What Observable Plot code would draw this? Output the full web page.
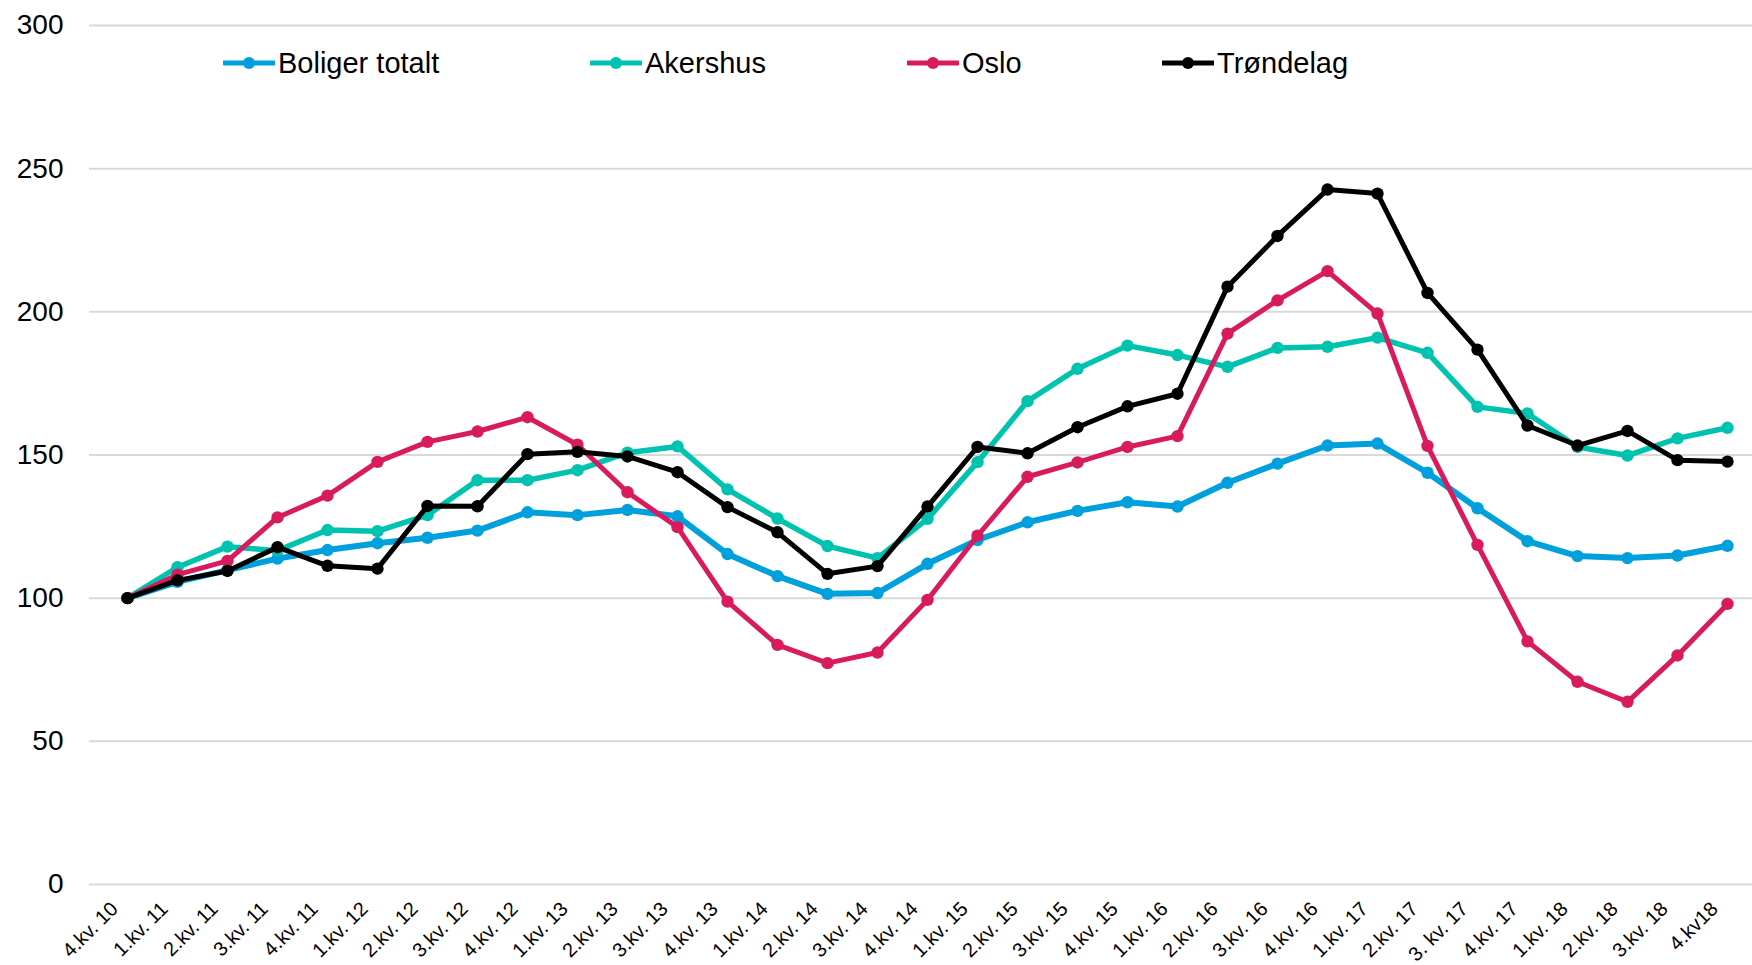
<!DOCTYPE html>
<html><head><meta charset="utf-8">
<script src="https://cdn.jsdelivr.net/npm/d3@7"></script>
<script src="https://cdn.jsdelivr.net/npm/@observablehq/plot@0.6"></script>
<style>
body{margin:0;background:#fff;font-family:Arial,"Liberation Sans",sans-serif;}
#wrap{position:relative;width:1752px;height:965px;overflow:hidden;}
#legend{position:absolute;left:0;top:0;width:1752px;height:0;}
.item{position:absolute;display:flex;align-items:center;font-size:29px;color:#000;line-height:1;white-space:nowrap;}
.item svg{display:block;margin-right:3px;}
</style></head><body><div id="wrap"><div id="chart"></div><div id="legend"></div></div>
<script>
const quarters = ["4.kv. 10","1.kv. 11","2.kv. 11","3.kv. 11","4.kv. 11","1.kv. 12","2.kv. 12","3.kv. 12","4.kv. 12","1.kv. 13","2.kv. 13","3.kv. 13","4.kv. 13","1.kv. 14","2.kv. 14","3.kv. 14","4.kv. 14","1.kv. 15","2.kv. 15","3.kv. 15","4.kv. 15","1.kv. 16","2.kv. 16","3.kv. 16","4.kv. 16","1.kv. 17","2.kv. 17","3. kv. 17","4.kv. 17","1.kv. 18","2.kv. 18","3.kv. 18","4.kv18"];
const seriesNames = ["Boliger totalt","Akershus","Oslo","Trøndelag"];
const boligerTotalt = [100,105.7,109.8,113.8,116.8,119.2,121.1,123.6,130,129,130.8,128.6,115.4,107.7,101.5,101.8,112,120.3,126.5,130.5,133.5,132,140.3,147,153.3,154,143.8,131.4,119.9,114.7,114,114.9,118.3];
const akershus = [100,110.8,118,116.6,123.8,123.4,129,141.2,141.2,144.7,150.8,153,138,127.8,118.2,114,127.7,147.5,168.8,180.1,188.2,184.9,180.8,187.4,187.8,191,185.7,166.8,164.5,152.8,149.8,155.8,159.5];
const oslo = [100,108.2,113,128.2,135.8,147.6,154.6,158.2,163.2,153.6,137,124.8,98.8,83.7,77.3,81,99.4,121.8,142.4,147.4,152.8,156.6,192.4,204,214.2,199.4,153.2,118.6,84.9,70.8,63.8,80,98];
const trondelag = [100,106.2,109.5,117.8,111.3,110.3,132.2,132.1,150.3,151.1,149.5,144,131.8,123,108.5,111.2,132,152.8,150.6,159.7,167,171.4,208.8,226.5,242.7,241.3,206.6,186.8,160.3,153.3,158.4,148.2,147.7];
const yTicks = [0,50,100,150,200,250,300];

const seriesColors = ["#00A0DD","#00C3AF","#D81B5C","#000000"];
const seriesWidths = [6,5.5,5,5];
const seriesValues = [boligerTotalt, akershus, oslo, trondelag];

const font = 'Arial, "Liberation Sans", sans-serif';
const marks = [
  Plot.ruleY(yTicks, {stroke:"#d9d9d9", strokeWidth:2}),
  Plot.axisY(yTicks, {tickSize:0, tickPadding:26, fontSize:28, label:null, fill:"#000"}),
  Plot.axisX({tickSize:0, tickRotate:-45, tickPadding:19, fontSize:20, label:null, fill:"#000", dx:-13, dy:2})
];
seriesNames.forEach((name, k) => {
  const rows = seriesValues[k].map((v, i) => ({q: quarters[i], v, name}));
  marks.push(Plot.line(rows, {x:"q", y:"v", stroke:seriesColors[k], strokeWidth:seriesWidths[k], strokeLinejoin:"round"}));
  marks.push(Plot.dot(rows, {x:"q", y:"v", r:6.2, fill:seriesColors[k], stroke:"none"}));
});

const chart = Plot.plot({
  width:1752, height:965,
  marginLeft:89, marginRight:0, marginTop:25, marginBottom:81,
  style:{fontFamily:font, background:"#fff", color:"#000"},
  x:{type:"point", domain:quarters, range:[114,1740], padding:0, label:null},
  y:{domain:[0,300], label:null},
  marks
});
document.getElementById("chart").appendChild(chart);

// legend overlay
const legendX = [223, 590, 907, 1162];
const legend = document.getElementById("legend");
seriesNames.forEach((name, k) => {
  const div = document.createElement("div");
  div.className = "item";
  div.style.left = legendX[k] + "px";
  div.style.top = "48px";
  div.innerHTML = `<svg width="52" height="30"><line x1="1" x2="51" y1="15" y2="15" stroke="${seriesColors[k]}" stroke-width="5" stroke-linecap="round"/><circle cx="26" cy="15" r="6" fill="${seriesColors[k]}"/></svg><span>${name}</span>`;
  legend.appendChild(div);
});
</script>
</body></html>
